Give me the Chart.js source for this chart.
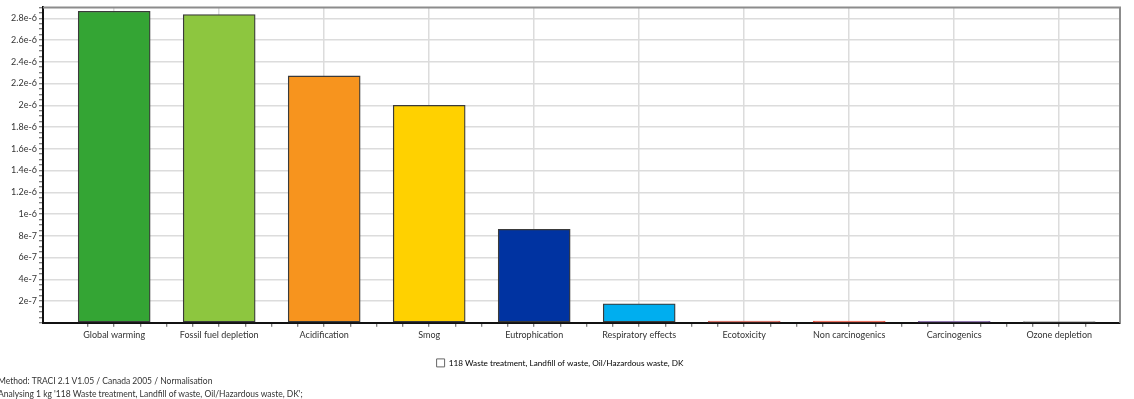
<!DOCTYPE html>
<html>
<head>
<meta charset="utf-8">
<script src="https://cdn.jsdelivr.net/npm/chart.js@4"></script>
<style>
  body { margin: 0; background: #fff; width: 1134px; height: 399px; overflow: hidden; position: relative; font-family: Lato, "Liberation Sans", sans-serif; }
  #chartBox { position: absolute; left: 0; top: 0; width: 1134px; height: 377px; }
  .note { position: absolute; left: -2px; font-size: 8.5px; line-height: 10px; color: #333; white-space: nowrap; }
</style>
</head>
<body>
<div id="chartBox"><canvas id="chart"></canvas></div>
<div class="note" style="top:376px">Method: TRACI 2.1 V1.05 / Canada 2005 / Normalisation</div>
<div class="note" style="top:389px">Analysing 1 kg '118 Waste treatment, Landfill of waste, Oil/Hazardous waste, DK';</div>
<script>
const categories = ["Global warming", "Fossil fuel depletion", "Acidification", "Smog", "Eutrophication",
  "Respiratory effects", "Ecotoxicity", "Non carcinogenics", "Carcinogenics", "Ozone depletion"];
const values = [2.865e-6, 2.835e-6, 2.27e-6, 2.0e-6, 8.6e-7, 1.75e-7, 1.6e-8, 1.6e-8, 1.4e-8, 1.2e-8];
const barColors = ["#34a534", "#8dc63f", "#f7941e", "#ffd100", "#0033a1", "#00aeef", "#d0594c", "#e8533f", "#7a5c9e", "#8a8a8a"];
const seriesLabel = "118 Waste treatment, Landfill of waste, Oil/Hazardous waste, DK";
const yMax = 2.9e-6;

const fontSpec = { family: "Lato, 'Liberation Sans', sans-serif", size: 9 };

// grey frame on top and right, the axes draw the black left/bottom lines
const framePlugin = {
  id: "frame",
  beforeDatasetsDraw(chart) {
    const { ctx, chartArea: a } = chart;
    ctx.save();
    ctx.strokeStyle = "#8c8c8c";
    ctx.lineWidth = 2;
    ctx.beginPath();
    ctx.moveTo(a.left, a.top);
    ctx.lineTo(a.right, a.top);
    ctx.lineTo(a.right, a.bottom);
    ctx.stroke();
    ctx.restore();
  }
};

const isMajorY = (v) => v > 0 && Math.round(v / 5e-8) % 4 === 0;
const isWhole = (v) => Math.abs(v - Math.round(v)) < 1e-9;

new Chart(document.getElementById("chart").getContext("2d"), {
  type: "bar",
  data: {
    datasets: [
      {
        label: seriesLabel,
        data: values.map((v, i) => ({ x: i, y: v })),
        backgroundColor: barColors,
        borderColor: values.map((v, i) => (v < 5e-8 ? barColors[i] : "#3a3a3a")),
        borderWidth: 1.3,
        borderSkipped: false,
        barThickness: 72,
      },
    ],
  },
  options: {
    responsive: true,
    maintainAspectRatio: false,
    animation: false,
    layout: { padding: { top: 7, right: 14, left: 0, bottom: 0 } },
    scales: {
      x: {
        type: "linear",
        offset: false,
        min: -0.678,
        max: 9.579,
        afterFit: (scale) => { scale.height = 30; },
        ticks: {
          stepSize: 0.25,
          autoSkip: false,
          maxRotation: 0,
          minRotation: 0,
          padding: 3,
          color: "#333",
          font: fontSpec,
          callback: (v) => (isWhole(v) && v >= 0 && v <= 9 ? categories[Math.round(v)] : ""),
        },
        grid: {
          offset: false,
          lineWidth: 1.5,
          color: (c) => (c.tick && isWhole(c.tick.value) && c.tick.value >= 0 ? "#dcdcdc" : "rgba(0,0,0,0)"),
          tickColor: (c) => (c.tick && Math.abs(c.tick.value * 4 - Math.round(c.tick.value * 4)) < 1e-6 ? "#555" : "rgba(0,0,0,0)"),
          tickLength: 4,
          tickWidth: 1,
        },
        border: { color: "#111", width: 2 },
      },
      y: {
        min: 0,
        max: yMax,
        afterFit: (scale) => { scale.width = 43; },
        ticks: {
          stepSize: 5e-8,
          autoSkip: false,
          padding: 2,
          color: "#333",
          font: fontSpec,
          callback: (v) => (isMajorY(v) ? Number(v.toPrecision(2)).toExponential() : ""),
        },
        grid: {
          lineWidth: 1.5,
          color: (c) => (c.tick && isMajorY(c.tick.value) ? "#dcdcdc" : "rgba(0,0,0,0)"),
          tickColor: "#555",
          tickLength: 4,
          tickWidth: 1,
        },
        border: { color: "#111", width: 2 },
      },
    },
    plugins: {
      tooltip: { enabled: false },
      legend: {
        position: "bottom",
        labels: {
          boxWidth: 8,
          boxHeight: 8,
          padding: 6,
          color: "#333",
          font: { family: fontSpec.family, size: 8.2 },
          generateLabels: () => [
            { text: seriesLabel, fillStyle: "#fff", strokeStyle: "#666", lineWidth: 1, datasetIndex: 0 },
          ],
        },
      },
    },
  },
  plugins: [framePlugin],
});
</script>
</body>
</html>
